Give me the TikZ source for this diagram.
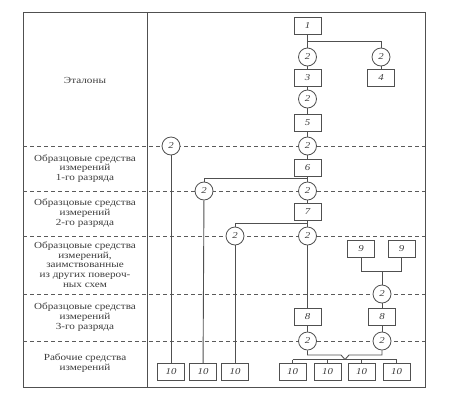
\documentclass[tikz,border=0pt]{standalone}
\usepackage{fontspec}
\setmainfont{Liberation Serif}
\newfontfamily\labfam[FakeStretch=1.2]{Liberation Serif}
\newfontfamily\numfam[FakeStretch=1.2]{Liberation Serif}
\definecolor{lc}{HTML}{505050}
\definecolor{dc}{HTML}{5A5A5A}
\definecolor{tc}{HTML}{3C3C3C}
\begin{document}
\begin{tikzpicture}[x=1pt,y=-1pt,
  ln/.style={draw=lc, line width=0.9pt},
  bx/.style={draw=lc, line width=0.8pt, minimum width=27pt, minimum height=17pt, inner sep=0pt, fill=white, text=tc, font=\numfam\itshape\fontsize{9}{9}\selectfont},
  cr/.style={circle, draw=lc, line width=0.8pt, minimum size=18pt, inner sep=0pt, fill=white, text=tc, font=\numfam\itshape\fontsize{9}{9}\selectfont},
  lab/.style={align=center, text=tc, inner sep=0pt, font=\labfam\fontsize{9.3}{9.7}\selectfont},
  dsh/.style={draw=dc, line width=0.8pt, dash pattern=on 4pt off 3pt},
  frm/.style={draw=lc, line width=0.9pt}]
\useasboundingbox (0,0) rectangle (454,400);
\fill[white] (0,0) rectangle (454,400);
% frame
\draw[frm] (23,12) rectangle (425,387);
\draw[frm] (147,12) -- (147,387);
% dashed row separators
\foreach \yy in {146,191,236,294,341}
  \draw[dsh] (23,\yy) -- (425,\yy);
% row labels
\node[lab] (l1) at (85,80) {Эталоны};
\node[lab] (l2) at (85,168.5) {Образцовые средства\\измерений\\1-го разряда};
\node[lab] (l3) at (85,213) {Образцовые средства\\измерений\\2-го разряда};
\node[lab] (l4) at (85,264.5) {Образцовые средства\\измерений,\\заимствованные\\из других повероч-\\ных схем};
\node[lab] (l5) at (85,317) {Образцовые средства\\измерений\\3-го разряда};
\node[lab] (l6) at (85,363) {Рабочие средства\\измерений};
% nodes
\node[bx] (b1) at (307.5,25.5) {1};
\node[cr] (c1) at (307.5,57) {2};
\node[cr] (c1r) at (381,57) {2};
\node[bx] (b3) at (307.5,77.5) {3};
\node[bx] (b4) at (381,77.5) {4};
\node[cr] (c3) at (307.5,99) {2};
\node[bx] (b5) at (307.5,123) {5};
\node[cr] (c5) at (307.5,146) {2};
\node[cr] (cL) at (171,146) {2};
\node[bx] (b6) at (307.5,167.5) {6};
\node[cr] (c6) at (307.5,191) {2};
\node[cr] (c6l) at (204,191) {2};
\node[bx] (b7) at (307.5,212) {7};
\node[cr] (c7) at (307.5,236) {2};
\node[cr] (c7l) at (235,236) {2};
\node[bx] (b9a) at (361,248.5) {9};
\node[bx] (b9b) at (401.5,248.5) {9};
\node[cr] (c9) at (382,294) {2};
\node[bx] (b8a) at (307.5,316.5) {8};
\node[bx] (b8b) at (382,316.5) {8};
\node[cr] (c8a) at (307.5,341) {2};
\node[cr] (c8b) at (382,341) {2};
\node[bx] (t1) at (171,372) {10};
\node[bx] (t2) at (203,372) {10};
\node[bx] (t3) at (235,372) {10};
\node[bx] (t4) at (292.5,372) {10};
\node[bx] (t5) at (327.5,372) {10};
\node[bx] (t6) at (361.5,372) {10};
\node[bx] (t7) at (396.5,372) {10};
% junction coordinates
\coordinate (j1) at (307.5,41);
\coordinate (j6) at (307.5,178);
\coordinate (j7) at (307.5,223);
\coordinate (j9) at (382,271);
\coordinate (bl) at (341,355);
\coordinate (br) at (349,355);
\coordinate (bp) at (345,359.5);
% connectors
\draw[ln] (b1) -- (c1);
\draw[ln] (c1) -- (b3);
\draw[ln] (b3) -- (c3);
\draw[ln] (c3) -- (b5);
\draw[ln] (b5) -- (c5);
\draw[ln] (c5) -- (b6);
\draw[ln] (b6) -- (c6);
\draw[ln] (c6) -- (b7);
\draw[ln] (b7) -- (c7);
\draw[ln] (c7) -- (b8a);
\draw[ln] (b8a) -- (c8a);
\draw[ln] (j1) -| (c1r);
\draw[ln] (c1r) -- (b4);
\draw[ln] (j6) -| (c6l);
\draw[ln] (c6l) -- (t2);
\draw[ln] (j7) -| (c7l);
\draw[ln] (c7l) -- (t3);
\draw[ln] (cL) -- (t1);
\draw[ln] (b9a) |- (j9);
\draw[ln] (b9b) |- (j9);
\draw[ln] (j9) -- (c9);
\draw[ln] (c9) -- (b8b);
\draw[ln] (b8b) -- (c8b);
\draw[ln] (c8a) |- (bl) -- (bp);
\draw[ln] (c8b) |- (br) -- (bp);
\draw[ln] (t4.north |- bp) -- (t7.north |- bp);
\foreach \t in {t4,t5,t6,t7}
  \draw[ln] (\t.north |- bp) -- (\t.north);
\end{tikzpicture}
\end{document}
